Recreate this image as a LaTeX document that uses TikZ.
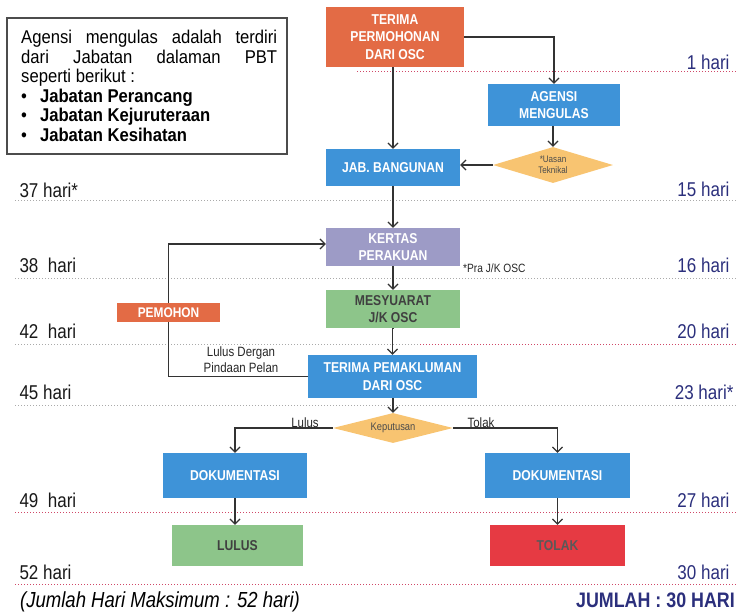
\documentclass[tikz,border=0pt]{standalone}
\usepackage{fontspec}
\setmainfont[FakeStretch=0.85]{Liberation Sans}
\newfontfamily\infofont[FakeStretch=0.9]{Liberation Sans}
\usetikzlibrary{arrows.meta,shapes.geometric}
\definecolor{corange}{HTML}{E36B45}
\definecolor{cblue}{HTML}{3E93D8}
\definecolor{clav}{HTML}{9D9BC6}
\definecolor{cgreen}{HTML}{8DC58A}
\definecolor{cred}{HTML}{E63A43}
\definecolor{cdia}{HTML}{F8C471}
\definecolor{cnavy}{HTML}{2B2F7C}
\definecolor{cdotr}{HTML}{D04868}
\definecolor{cdotg}{HTML}{AAAAAA}
\tikzset{
  box/.style={rectangle, inner sep=2pt, align=center, text=white, font=\fontsize{14.3}{17.5}\selectfont\bfseries},
  dia/.style={diamond, fill=cdia, aspect=3.3, inner sep=0pt, align=center, text=black!70, font=\fontsize{9.5}{11}\selectfont},
  arr/.style={draw=black!80, line width=1.2pt, -{Straight Barb[length=5pt,width=10pt]}},
  ln/.style={draw=black!80, line width=1.2pt},
  lday/.style={anchor=base west, font=\fontsize{20}{22}\selectfont, text=black!90},
  rday/.style={anchor=base east, font=\fontsize{20}{22}\selectfont, text=cnavy},
  small/.style={font=\fontsize{13.5}{16}\selectfont, text=black!85, align=center},
  infol/.style={anchor=base west, inner sep=0pt, font=\fontsize{18.5}{20}\infofont},
  dotr/.style={draw=cdotr, line width=1pt, dotted},
  dotg/.style={draw=cdotg, line width=1pt, dotted}
}
\begin{document}
\begin{tikzpicture}[x=1pt,y=-1pt]
\useasboundingbox (0,0) rectangle (736,614);
% day lines
\draw[dotr] (357,71) -- (736,71);
\draw[dotg] (15,200) -- (736,200);
\draw[dotg] (15,278) -- (736,278);
\draw[dotg] (15,344) -- (420,344);
\draw[dotr] (420,344) -- (736,344);
\draw[dotg] (15,405) -- (736,405);
\draw[dotr] (15,512) -- (736,512);
\draw[dotr] (15,584) -- (736,584);
% day labels
\node[rday] (r1) at (733,69) {1 hari};
\node[lday] (l37) at (16,197) {37 hari*};
\node[rday] (r15) at (733,196) {15 hari};
\node[lday] (l38) at (16,272) {38\ \ hari};
\node[rday] (r16) at (733,272) {16 hari};
\node[lday] (l42) at (16,338) {42\ \ hari};
\node[rday] (r20) at (733,338) {20 hari};
\node[lday] (l45) at (16,399) {45 hari};
\node[rday] (r23) at (737,399) {23 hari*};
\node[lday] (l49) at (16,507) {49\ \ hari};
\node[rday] (r27) at (733,507) {27 hari};
\node[lday] (l52) at (16,579) {52 hari};
\node[rday] (r30) at (733,579) {30 hari};
\node[anchor=base west, inner sep=0pt, font=\fontsize{21.8}{23}\selectfont\itshape] (jml) at (20,607) {(Jumlah Hari Maksimum : 52 hari)};
\node[anchor=base east, inner sep=0pt, font=\fontsize{21}{23}\selectfont\bfseries, text=cnavy] (jmlr) at (735,607) {JUMLAH : 30 HARI};
% info box
\node[draw=black!70, line width=1.3pt, minimum width=280pt, minimum height=136pt, inner sep=0pt] (info) at (147,86) {};
\node[infol] (i1) at (21,43) {\makebox[256pt][s]{Agensi mengulas adalah terdiri}};
\node[infol] (i2) at (21,63) {\makebox[256pt][s]{dari Jabatan dalaman PBT}};
\node[infol] (i3) at (21,82) {seperti berikut :};
\node[infol] (b1) at (21,102) {\textbullet\hspace{13pt}\textbf{Jabatan Perancang}};
\node[infol] (b2) at (21,121.5) {\textbullet\hspace{13pt}\textbf{Jabatan Kejuruteraan}};
\node[infol] (b3) at (21,141.5) {\textbullet\hspace{13pt}\textbf{Jabatan Kesihatan}};
% nodes
\node[box, fill=corange, minimum width=138pt, minimum height=60pt] (term) at (395,37) {TERIMA\\PERMOHONAN\\DARI OSC};
\node[box, fill=cblue, minimum width=132pt, minimum height=42pt] (agensi) at (554,105) {AGENSI\\MENGULAS};
\node[dia, minimum width=120pt, minimum height=36pt] (uasan) at (553,165) {*Uasan\\Teknikal};
\node[box, fill=cblue, minimum width=134pt, minimum height=37pt] (jab) at (393,167.5) {JAB. BANGUNAN};
\node[box, fill=clav, minimum width=134pt, minimum height=38pt] (kertas) at (393,247) {KERTAS\\PERAKUAN};
\node[small, anchor=west, inner sep=0pt, font=\fontsize{12}{14}\selectfont] (pra) at (463,268) {*Pra J/K OSC};
\node[box, fill=cgreen, text=black!75, minimum width=134pt, minimum height=38pt] (mesy) at (393,309) {MESYUARAT\\J/K OSC};
\node[box, fill=corange, minimum width=103pt, minimum height=19pt, inner sep=0pt, font=\fontsize{14}{15}\selectfont\bfseries] (pemohon) at (168.5,312.5) {PEMOHON};
\node[box, fill=cblue, minimum width=169pt, minimum height=43pt] (pemak) at (392.5,376.5) {TERIMA PEMAKLUMAN\\DARI OSC};
\node[small] (ldp) at (241,360) {Lulus Dergan\\Pindaan Pelan};
\node[dia, minimum width=120pt, minimum height=30pt, font=\fontsize{11}{12}\selectfont] (keput) at (393,428) {Keputusan};
\node[small, anchor=base] (lulusl) at (305,427) {Lulus};
\node[small, anchor=base] (tolakl) at (481,427) {Tolak};
\node[box, fill=cblue, minimum width=144pt, minimum height=45pt] (dokl) at (235,475.5) {DOKUMENTASI};
\node[box, fill=cblue, minimum width=145pt, minimum height=45pt] (dokr) at (557.5,475.5) {DOKUMENTASI};
\node[box, fill=cgreen, text=black!75, minimum width=131pt, minimum height=41pt] (lulus) at (237.5,545.5) {LULUS};
\node[box, fill=cred, text=black!65, minimum width=135pt, minimum height=41pt] (tolak) at (557.5,545.5) {TOLAK};
% connectors
\draw[arr] (jab.north |- term.south) -- (jab.north);
\draw[arr] (term.east) -| (agensi.north);
\draw[arr] (agensi.south -| uasan.north) -- (uasan.north);
\draw[arr] (uasan.west) -- (uasan.west -| jab.east);
\draw[arr] (jab.south) -- (kertas.north);
\draw[arr] (kertas.south) -- (mesy.north);
\draw[arr] (mesy.south) -- (pemak.north |- mesy.south) -- (pemak.north);
\draw[arr] (pemak.south -| keput.north) -- (keput.north);
\draw[ln] (pemak.west) -| (pemohon.south);
\draw[arr] (pemohon.north) |- ([yshift=3pt]kertas.west);
\draw[arr] (keput.west) -| (dokl.north);
\draw[arr] (keput.east) -| (dokr.north);
\draw[arr] (dokl.south) -- (dokl.south |- lulus.north);
\draw[arr] (dokr.south) -- (tolak.north);
\end{tikzpicture}
\end{document}
